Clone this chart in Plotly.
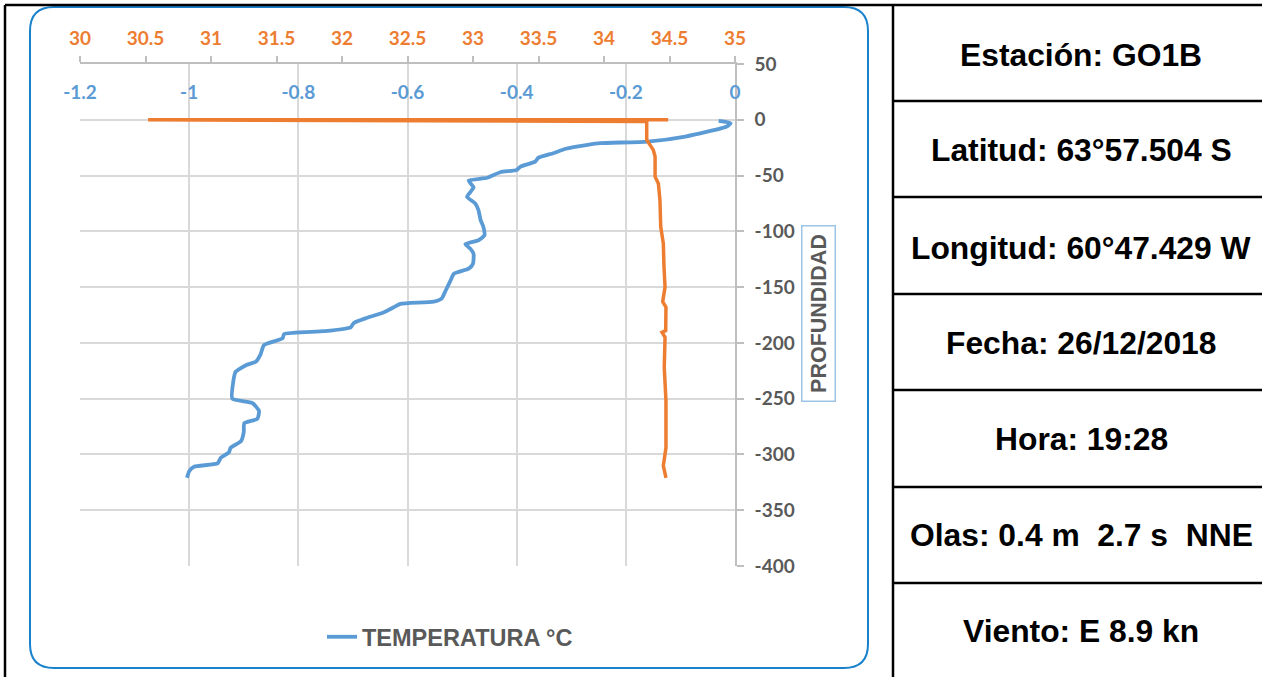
import plotly.graph_objects as go

# ---------------- data ----------------
temp_depth = [-1, -3, -6, -15, -19.5, -21, -22.5, -26, -30, -34, -37.5, -42, -45, -47, -52, -54.5,
              -60.5, -63, -69, -75, -81, -90, -96, -103.5, -108, -111.5, -115.5, -120, -129,
              -133.5, -138, -144, -153, -160, -163, -165, -168, -172.5, -177.5, -182, -186,
              -189.5, -192, -196, -202, -210, -217, -220, -226, -234, -250, -254, -261, -268,
              -272, -280, -288, -294, -298, -303, -308, -311, -315, -321]
temp_vals = [-0.03, -0.008, -0.015, -0.091, -0.16, -0.247, -0.27, -0.31, -0.333, -0.36, -0.366,
             -0.393, -0.40, -0.43, -0.454, -0.488, -0.479, -0.482, -0.491, -0.476, -0.47, -0.466,
             -0.461, -0.459, -0.47, -0.494, -0.485, -0.479, -0.48, -0.488, -0.515, -0.521, -0.53,
             -0.537, -0.552, -0.613, -0.625, -0.643, -0.674, -0.698, -0.704, -0.753, -0.826,
             -0.829, -0.863, -0.869, -0.878, -0.896, -0.915, -0.919, -0.921, -0.884, -0.872,
             -0.875, -0.899, -0.9, -0.905, -0.924, -0.927, -0.942, -0.948, -0.991, -1.0, -1.004]

sal_depth = [0, 0, -1.5, -18, -22.5, -27, -33, -42, -51, -57, -72, -96, -111, -132, -150, -163,
             -168, -189, -190.5, -195, -222, -252, -282, -294, -310, -321]
sal_vals = [34.49, 30.52, 34.326, 34.326, 34.351, 34.376, 34.39, 34.389, 34.39, 34.415, 34.427,
            34.433, 34.453, 34.458, 34.466, 34.448, 34.473, 34.471, 34.443, 34.466, 34.46,
            34.473, 34.471, 34.473, 34.453, 34.473]

temp_ticks = [-1.2, -1.0, -0.8, -0.6, -0.4, -0.2, 0]
temp_tick_text = ["-1.2", "-1", "-0.8", "-0.6", "-0.4", "-0.2", "0"]
sal_ticks = [30, 30.5, 31, 31.5, 32, 32.5, 33, 33.5, 34, 34.5, 35]
sal_tick_text = ["30", "30.5", "31", "31.5", "32", "32.5", "33", "33.5", "34", "34.5", "35"]
depth_ticks = [50, 0, -50, -100, -150, -200, -250, -300, -350, -400]
depth_tick_text = ["50", "0", "-50", "-100", "-150", "-200", "-250", "-300", "-350", "-400"]

legend_name = "TEMPERATURA °C"
axis_title = "PROFUNDIDAD"
table_rows = ["Estación: GO1B", "Latitud: 63°57.504 S", "Longitud: 60°47.429 W",
              "Fecha: 26/12/2018", "Hora: 19:28", "Olas: 0.4 m  2.7 s  NNE", "Viento: E 8.9 kn"]

# ---------------- helpers ----------------
W, H = 1262, 677
def px(x):
    return x / W
def py(y):
    return 1 - y / H

BLUE = "#5B9BD5"
ORANGE = "#ED7D31"
GRID = "#D9D9D9"
AXIS = "#BFBFBF"
GRAYTXT = "#595959"
tickfont_common = dict(family="Lato", size=19, weight="bold")

fig = go.Figure()
fig.add_trace(go.Scatter(
    x=temp_vals, y=temp_depth, mode="lines", name=legend_name,
    line=dict(color=BLUE, width=3.8, shape="spline", smoothing=0.5),
    xaxis="x", yaxis="y"))
fig.add_trace(go.Scatter(
    x=sal_vals, y=sal_depth, mode="lines", name="SALINIDAD", showlegend=False,
    line=dict(color=ORANGE, width=3.5),
    xaxis="x2", yaxis="y"))

fig.update_layout(
    template="none",
    width=W, height=H, margin=dict(l=0, r=0, t=0, b=0, pad=0), autosize=False,
    paper_bgcolor="white", plot_bgcolor="white",
    xaxis=dict(domain=[px(80), px(735)], range=[-1.2, 0], tickvals=temp_ticks,
               ticktext=temp_tick_text, anchor="free", position=py(79), side="bottom",
               automargin=False,
               showgrid=True, gridcolor=GRID, gridwidth=1.5, zeroline=False, showline=False,
               ticks="", tickfont=dict(color=BLUE, **tickfont_common)),
    xaxis2=dict(overlaying="x", side="top", anchor="y", range=[30, 35], tickvals=sal_ticks,
                ticktext=sal_tick_text, showgrid=False, zeroline=False, showline=True,
                automargin=False, ticklabelstandoff=4,
                linecolor=AXIS, linewidth=1.5, ticks="outside", ticklen=6, tickwidth=1.5,
                tickcolor=AXIS, tickfont=dict(color=ORANGE, **tickfont_common)),
    yaxis=dict(domain=[py(566), py(64)], range=[-400, 50], tickvals=depth_ticks,
               ticktext=depth_tick_text, side="right", anchor="x", showgrid=True,
               automargin=False, ticklabelstandoff=7,
               gridcolor=GRID, gridwidth=1.5, zeroline=False, showline=True, linecolor=AXIS,
               linewidth=1.5, ticks="outside", ticklen=7, tickwidth=1.5, tickcolor=AXIS,
               tickfont=dict(color=GRAYTXT, **tickfont_common)),
    showlegend=True,
    legend=dict(orientation="h", x=px(450), y=py(637), xanchor="center", yanchor="middle",
                bgcolor="rgba(0,0,0,0)",
                font=dict(family="Liberation Sans", size=23.5, color=GRAYTXT, weight="bold")),
)

# chart-area rounded border
L, R, T, B, r = 30, 868, 7, 668, 24
pts = [("M", L + r, T), ("L", R - r, T), ("Q", R, T, R, T + r), ("L", R, B - r),
       ("Q", R, B, R - r, B), ("L", L + r, B), ("Q", L, B, L, B - r), ("L", L, T + r),
       ("Q", L, T, L + r, T)]
path = ""
for p in pts:
    cmd = p[0]
    coords = p[1:]
    s = " ".join(f"{px(coords[i]):.5f},{py(coords[i+1]):.5f}" for i in range(0, len(coords), 2))
    path += f"{cmd} {s} "
path += "Z"
shapes = [dict(type="path", xref="paper", yref="paper", path=path,
               line=dict(color="#1A82CC", width=2), layer="below")]

# black frame and table lines
blk = dict(color="black", width=2.5)
shapes.append(dict(type="line", xref="paper", yref="paper", x0=px(5), x1=px(1262), y0=py(5), y1=py(5), line=blk))
shapes.append(dict(type="line", xref="paper", yref="paper", x0=px(5), x1=px(5), y0=py(5), y1=py(677), line=blk))
shapes.append(dict(type="line", xref="paper", yref="paper", x0=px(893), x1=px(893), y0=py(5), y1=py(677), line=blk))
row_lines = [101, 197, 294, 390, 487, 583]
for yl in row_lines:
    shapes.append(dict(type="line", xref="paper", yref="paper", x0=px(893), x1=px(1262),
                       y0=py(yl), y1=py(yl), line=blk))
fig.update_layout(shapes=shapes)

annotations = [dict(text=axis_title, x=px(818), y=py(314), xref="paper", yref="paper",
                    showarrow=False, textangle=-90, bordercolor="#9DC3E6", borderwidth=1.5,
                    borderpad=4, width=166, height=24, xanchor="center", yanchor="middle",
                    font=dict(family="Liberation Sans", size=21.5, color=GRAYTXT, weight="bold"))]
row_centers = [55, 150, 248, 343, 439, 535, 631]
for txt, yc in zip(table_rows, row_centers):
    annotations.append(dict(text=txt, x=px(1081), y=py(yc), xref="paper", yref="paper",
                            showarrow=False, xanchor="center", yanchor="middle",
                            font=dict(family="Liberation Sans", size=31.8, color="black",
                                      weight="bold")))
fig.update_layout(annotations=annotations)

fig.write_html("out.html", config={"displayModeBar": False},
               post_script="document.body.style.margin='0';")
